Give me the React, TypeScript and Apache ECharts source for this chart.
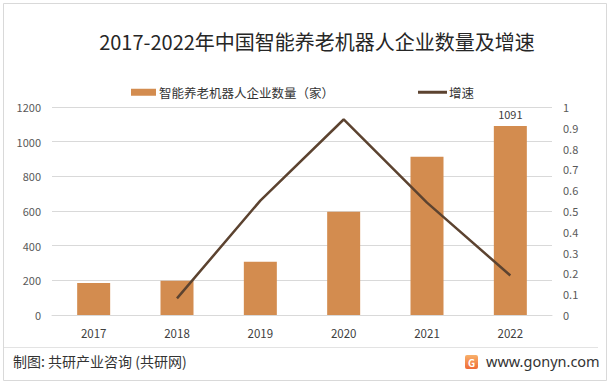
import React, { useEffect, useRef } from "react";
import * as echarts from "echarts";

const years = ["2017", "2018", "2019", "2020", "2021", "2022"];
const counts = [185, 198, 307, 596, 913, 1091];
const growth: (number | null)[] = [null, 0.08, 0.55, 0.94, 0.54, 0.19];
const barName = "智能养老机器人企业数量（家）";
const lineName = "增速";
const titleText = "2017-2022年中国智能养老机器人企业数量及增速";
const sourceText = "制图: 共研产业咨询 (共研网)";
const siteText = "www.gonyn.com";

const FONT = "'Noto Sans CJK SC', 'Noto Sans', sans-serif";

export default function App() {
  const ref = useRef<HTMLDivElement>(null);
  useEffect(() => {
    if (!ref.current) return;
    const chart = echarts.init(ref.current, null, { renderer: "svg" });
    const barData = counts.map((v, i) =>
      i === counts.length - 1
        ? { value: v, label: { show: true, position: "top", color: "#404040", fontSize: 11, fontFamily: FONT, distance: 6 } }
        : v
    );
    chart.setOption({
      animation: false,
      backgroundColor: "#ffffff",
      textStyle: { fontFamily: FONT },
      grid: { left: 52, right: 61, top: 107, bottom: 70, containLabel: false },
      legend: [
        {
          data: [{ name: barName, icon: "rect" }],
          left: 126,
          top: 81,
          itemWidth: 25,
          itemHeight: 7,
          itemGap: 4,
          textStyle: { fontSize: 12.5, color: "#333", fontFamily: FONT, padding: [0, 0, 0, -2] },
        },
        {
          data: [{ name: lineName, icon: "rect", itemStyle: { color: "#5c4330" } }],
          left: 413,
          top: 81,
          itemWidth: 29,
          itemHeight: 3,
          textStyle: { fontSize: 12.5, color: "#333", fontFamily: FONT, padding: [0, 0, 0, -3] },
        },
      ],
      xAxis: {
        type: "category",
        data: years,
        axisTick: { show: false },
        axisLine: { lineStyle: { color: "#d9d9d9" } },
        axisLabel: { color: "#404040", fontSize: 11.5, margin: 12, fontFamily: FONT },
      },
      yAxis: [
        {
          type: "value",
          min: 0,
          max: 1200,
          interval: 200,
          axisLine: { show: false },
          axisTick: { show: false },
          splitLine: { lineStyle: { color: "#d9d9d9" } },
          axisLabel: {
            color: "#595959",
            fontSize: 11,
            margin: 11,
            fontFamily: FONT,
            formatter: (v: number) => String(v),
          },
        },
        {
          type: "value",
          min: 0,
          max: 1,
          interval: 0.1,
          axisLine: { show: false },
          axisTick: { show: false },
          splitLine: { show: false },
          axisLabel: {
            color: "#595959",
            fontSize: 11,
            margin: 11,
            fontFamily: FONT,
            formatter: (v: number) => String(Math.round(v * 10) / 10),
          },
        },
      ],
      series: [
        {
          name: barName,
          type: "bar",
          data: barData,
          barWidth: 33,
          itemStyle: { color: "#d38c4f" },
        },
        {
          name: lineName,
          type: "line",
          yAxisIndex: 1,
          data: growth,
          symbol: "none",
          lineStyle: { color: "#5c4330", width: 2.5 },
          itemStyle: { color: "#5c4330" },
        },
      ],
      graphic: [
        {
          type: "rect",
          shape: { x: 3.5, y: 3.5, width: 603, height: 377 },
          style: { fill: "none", stroke: "#d9d9d9", lineWidth: 1 },
          silent: true,
        },
        {
          type: "text",
          x: 317,
          y: 41,
          style: {
            text: titleText,
            fontSize: 20,
            fontFamily: FONT,
            fill: "#262626",
            align: "center",
            verticalAlign: "middle",
          },
        },
        {
          type: "line",
          shape: { x1: 4, y1: 347.5, x2: 598, y2: 347.5 },
          style: { stroke: "#e3e3e3", lineWidth: 1 },
        },
        {
          type: "text",
          x: 13,
          y: 361,
          style: {
            text: sourceText,
            fontSize: 14,
            fontFamily: FONT,
            fill: "#333",
            verticalAlign: "middle",
          },
        },
        {
          type: "rect",
          shape: { x: 465, y: 355, width: 13, height: 14, r: 2 },
          style: {
            fill: new echarts.graphic.LinearGradient(0, 0, 0, 1, [
              { offset: 0, color: "#f8b06a" },
              { offset: 1, color: "#ef6b36" },
            ]),
          },
        },
        {
          type: "text",
          x: 471.5,
          y: 362.5,
          style: {
            text: "G",
            fontSize: 10,
            fontWeight: "bold",
            fontFamily: FONT,
            fill: "#fff",
            align: "center",
            verticalAlign: "middle",
          },
        },
        {
          type: "text",
          x: 486,
          y: 361,
          style: {
            text: siteText,
            fontSize: 14.5,
            fontFamily: "'Noto Sans', sans-serif",
            fill: "#333",
            verticalAlign: "middle",
          },
        },
      ],
    });
    return () => chart.dispose();
  }, []);
  return (
    <div
      ref={ref}
      style={{ position: "absolute", left: 0, top: 0, width: 613, height: 385, background: "#fff" }}
    />
  );
}
